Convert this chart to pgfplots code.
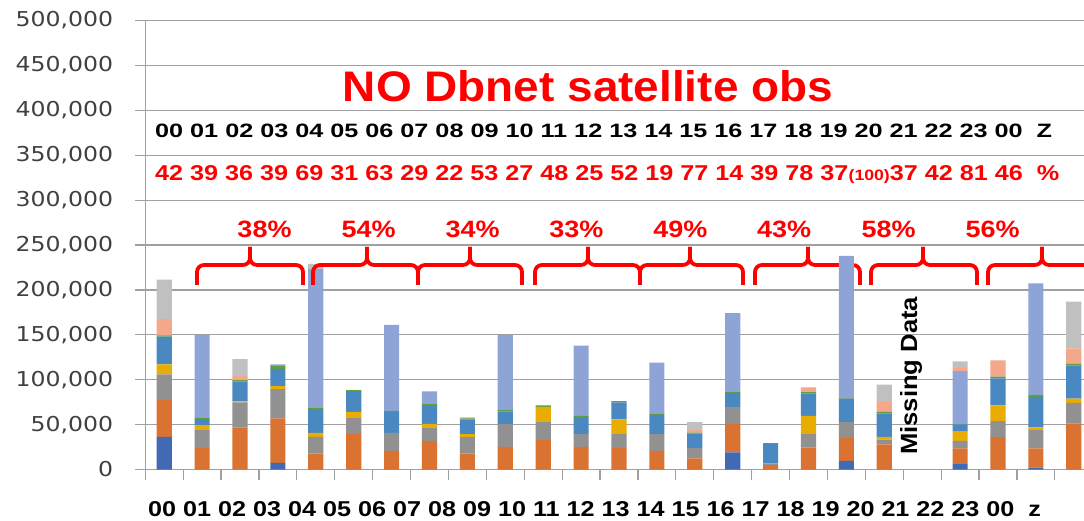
\documentclass[border=0pt]{standalone}
\usepackage{fontspec}
\setmainfont{Liberation Sans}
\newfontfamily\tickfont{DejaVu Sans}[FakeStretch=1.15]
\usepackage{graphicx}
\usepackage{pgfplots}
\usepackage{pgfplotstable}
\pgfplotsset{compat=1.18}

\definecolor{cDB}{HTML}{4169B4}
\definecolor{cOR}{HTML}{DA7232}
\definecolor{cGR}{HTML}{919191}
\definecolor{cGO}{HTML}{E8AD00}
\definecolor{cBL}{HTML}{4A88C2}
\definecolor{cGN}{HTML}{5F9F3F}
\definecolor{cPW}{HTML}{8FA4D6}
\definecolor{cSA}{HTML}{F3A88B}
\definecolor{cLG}{HTML}{C0C0C0}
\definecolor{gridgray}{HTML}{A0A0A0}
\definecolor{ticktext}{HTML}{404040}
\definecolor{annred}{HTML}{FF0000}

% obs counts per hour, stacked by source
\pgfplotstableread{
x  DB    OR    GR    GO    BL    GN   PW     SA    LG
0  36400 40900 28700 11000 31000 1500 0      18000 44000
1  0     23800 20000 5600  6600  2000 92000  0     0
2  0     46800 27900 1100  22200 1600 0      4400  19000
3  7400  49400 32700 3400  19100 3100 2000   0     0
4  0     17800 18600 4500  26300 1200 154600 0     6000
5  0     39400 18600 6300  23000 1100 0      0     0
6  0     20800 20100 0     23400 1100 95600  0     0
7  0     32000 14800 4100  20800 1100 14100  0     0
8  0     17800 18600 3000  16300 1100 0      1200  0
9  0     25300 25600 0     13700 1500 83900  0     0
10 0     32700 20100 17000 0     1500 0      0     0
11 0     25300 14100 0     18900 1500 78200  0     0
12 0     23800 15600 16300 19000 1500 0      0     0
13 0     20800 18600 0     21500 1100 56900  0     0
14 0     12300 11500 0     16300 1100 0      2600  9000
15 19000 31900 18900 0     15600 1500 87100  0     0
16 0     4800  1900  0     21500 1100 0      0     0
17 0     24500 14900 20400 24900 1500 0      5200  0
18 9700  25200 17900 0     26000 1400 157600 0     0
19 0     27900 5500  3000  26000 1900 0      11100 19000
20 0     0     0     0     0     0    0      0     0
21 5900  17500 8500  10400 7900  1100 58300  3300  7500
22 0     36400 17500 17400 30100 1900 0      18200 0
23 2200  21200 20400 3000  34200 2200 124100 0     0
24 0     51300 23000 4500  37100 1900 0      17100 52000
}\obs

% brace: left end, tip, right end (picture pt)
\newcommand\obsbrace[3]{%
  \draw[annred, line width=3.8pt, rounded corners=7pt] (#1,235) -- (#1,255) -- (#2,255) -- (#2,273);
  \draw[annred, line width=3.8pt, rounded corners=7pt] (#3,235) -- (#3,255) -- (#2,255) -- (#2,273);
}

\begin{document}
\begin{tikzpicture}[x=1pt,y=1pt]
\path[use as bounding box] (0,0) rectangle (1084,520);

\obsbrace{755}{808}{860}

\begin{axis}[
  at={(145.25pt,50.5pt)}, anchor=south west,
  scale only axis, width=938.75pt, height=449pt,
  ybar stacked, bar width=0.4,
  xmin=-0.5, xmax=24.27, ymin=0, ymax=500000,
  axis lines=left,
  axis line style={-, draw=gridgray, line width=1.3pt},
  ytick={0,50000,...,500000},
  xtick={-0.5,0.5,...,23.5}, xticklabels={},
  tick align=outside, major tick length=10pt,
  tick style={draw=gridgray, line width=1.2pt},
  ymajorgrids, grid style={draw=gridgray, line width=1.2pt},
  scaled y ticks=false,
  yticklabel={\pgfmathprintnumber[fixed, precision=0, 1000 sep={,}, assume math mode=true]{\tick}},
  yticklabel style={font=\tickfont\fontsize{20.5}{24}\selectfont, text=ticktext,
    anchor=east, inner sep=0pt, xshift=-22pt},
]
\addplot[fill=cDB, draw=none] table[x=x, y=DB] {\obs};
\addplot[fill=cOR, draw=none] table[x=x, y=OR] {\obs};
\addplot[fill=cGR, draw=none] table[x=x, y=GR] {\obs};
\addplot[fill=cGO, draw=none] table[x=x, y=GO] {\obs};
\addplot[fill=cBL, draw=none] table[x=x, y=BL] {\obs};
\addplot[fill=cGN, draw=none] table[x=x, y=GN] {\obs};
\addplot[fill=cPW, draw=none] table[x=x, y=PW] {\obs};
\addplot[fill=cSA, draw=none] table[x=x, y=SA] {\obs};
\addplot[fill=cLG, draw=none] table[x=x, y=LG] {\obs};
\end{axis}

\obsbrace{197}{250}{303}
\obsbrace{313}{367}{418}
\obsbrace{418}{470}{522}
\obsbrace{535}{588}{640}
\obsbrace{640}{690}{743}
\obsbrace{871}{923}{977}
\obsbrace{988}{1042}{1096}

\node[annred, anchor=base, inner sep=0pt] at (588,418)
  {\resizebox{490pt}{31pt}{\bfseries NO Dbnet satellite obs}};
\node[black, anchor=base west, inner sep=0pt] at (155,382.5)
  {\resizebox{897pt}{13.5pt}{\bfseries 00 01 02 03 04 05 06 07 08 09 10 11 12 13 14 15 16 17 18 19 20 21 22 23 00~~Z}};
\node[annred, anchor=base west, inner sep=0pt] at (155,339)
  {\resizebox{904pt}{15pt}{\bfseries 42 39 36 39 69 31 63 29 22 53 27 48 25 52 19 77 14 39 78 37\scalebox{0.7}{(100)}37 42 81 46~~\%}};
\foreach \cx/\lab in {264.5/38, 368.7/54, 472.5/34, 576.3/33, 680.3/49, 784.2/43, 888.7/58, 992.5/56}
  \node[annred, anchor=base, inner sep=0pt] at (\cx,282.7) {\resizebox{54pt}{16.5pt}{\bfseries \lab\%}};
\node[black, rotate=90, anchor=base west, inner sep=0pt] at (917,65)
  {\resizebox{158pt}{17pt}{\bfseries Missing Data}};
\node[black, anchor=base west, inner sep=0pt] at (148,3.3)
  {\resizebox{893pt}{15pt}{\bfseries 00 01 02 03 04 05 06 07 08 09 10 11 12 13 14 15 16 17 18 19 20 21 22 23 00~~z}};
\end{tikzpicture}
\end{document}
